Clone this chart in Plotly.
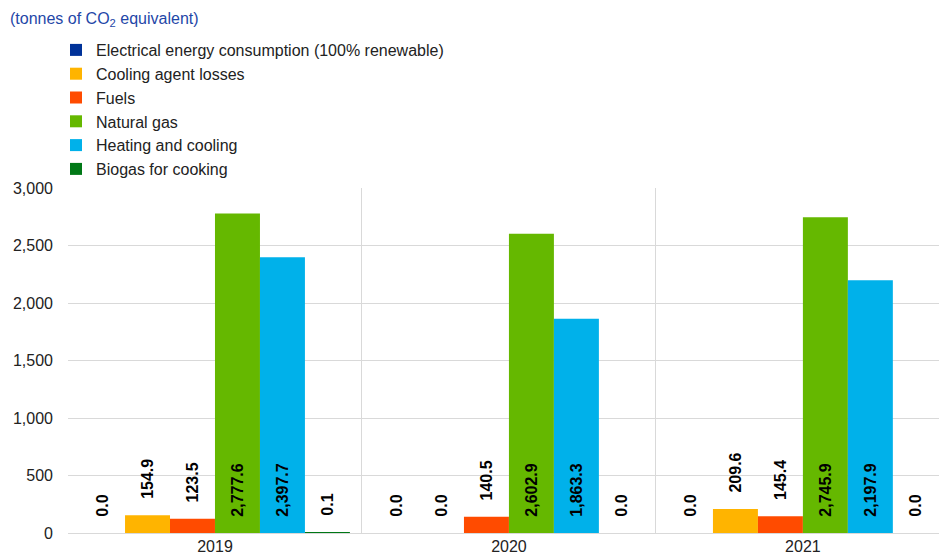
import plotly.graph_objects as go

years = ["2019", "2020", "2021"]
series_names = [
    "Electrical energy consumption (100% renewable)",
    "Cooling agent losses",
    "Fuels",
    "Natural gas",
    "Heating and cooling",
    "Biogas for cooking",
]
electrical = [0.0, 0.0, 0.0]
cooling_agent = [154.9, 0.0, 209.6]
fuels = [123.5, 140.5, 145.4]
natural_gas = [2777.6, 2602.9, 2745.9]
heating_cooling = [2397.7, 1863.3, 2197.9]
biogas = [0.1, 0.0, 0.0]
y_ticks = [0, 500, 1000, 1500, 2000, 2500, 3000]

values = [electrical, cooling_agent, fuels, natural_gas, heating_cooling, biogas]
colors = ["#003299", "#FFB400", "#FF4B00", "#65B800", "#00B1EA", "#007816"]

W, H = 939, 557
fig = go.Figure()
pad = "\u00a0" * 3
for name, vals, col in zip(series_names, values, colors):
    positions = ["inside" if v > 1000 else "outside" for v in vals]
    fig.add_trace(go.Bar(
        name=name, x=years, y=vals,
        marker=dict(color=col, line=dict(width=0)),
        texttemplate=pad + "%{y:,.1f}",
        textposition=positions,
        insidetextanchor="start",
        textangle=-90,
        constraintext="none",
        cliponaxis=False,
        textfont=dict(family="Arial, Liberation Sans", size=16, color="black", weight="bold"),
        insidetextfont=dict(color="black"),
        outsidetextfont=dict(color="black"),
    ))

fig.update_layout(
    width=W, height=H,
    barmode="group", bargap=0.082, bargroupgap=0,
    plot_bgcolor="white", paper_bgcolor="white",
    font=dict(family="Arial, Liberation Sans", size=16, color="#222222"),
    margin=dict(l=68, r=0, t=188, b=24, autoexpand=False),
    title=dict(
        text="(tonnes of CO<sub>2</sub> equivalent)",
        font=dict(size=16, color="#1F47A8"),
        x=10 / W, xref="container", xanchor="left",
        y=1 - 18 / H, yref="container", yanchor="middle",
    ),
    legend=dict(
        x=56 / W, xref="container", xanchor="left",
        y=1 - 33 / H, yref="container", yanchor="top",
        font=dict(size=16, color="#222222"),
        bgcolor="rgba(0,0,0,0)", traceorder="normal",
    ),
    showlegend=True,
    uniformtext=dict(mode=False),
)
fig.update_xaxes(
    type="category", range=[-0.5, 2.463], tickson="boundaries",
    showgrid=True, gridcolor="#D9D9D9", gridwidth=1,
    ticks="", showline=False, tickfont=dict(size=16, color="#222222"),
    ticklabelstandoff=2,
)
fig.update_yaxes(
    range=[0, 3000], tickvals=y_ticks, tickformat=",d",
    showgrid=True, gridcolor="#D9D9D9", gridwidth=1,
    zeroline=True, zerolinecolor="#D9D9D9", zerolinewidth=1,
    showline=False, ticks="", ticklabelstandoff=14,
    tickfont=dict(size=16, color="#222222"),
)
fig.write_html(
    "out.html",
    config={"displayModeBar": False},
    post_script="document.body.style.margin='0';document.body.style.overflow='hidden';",
)
